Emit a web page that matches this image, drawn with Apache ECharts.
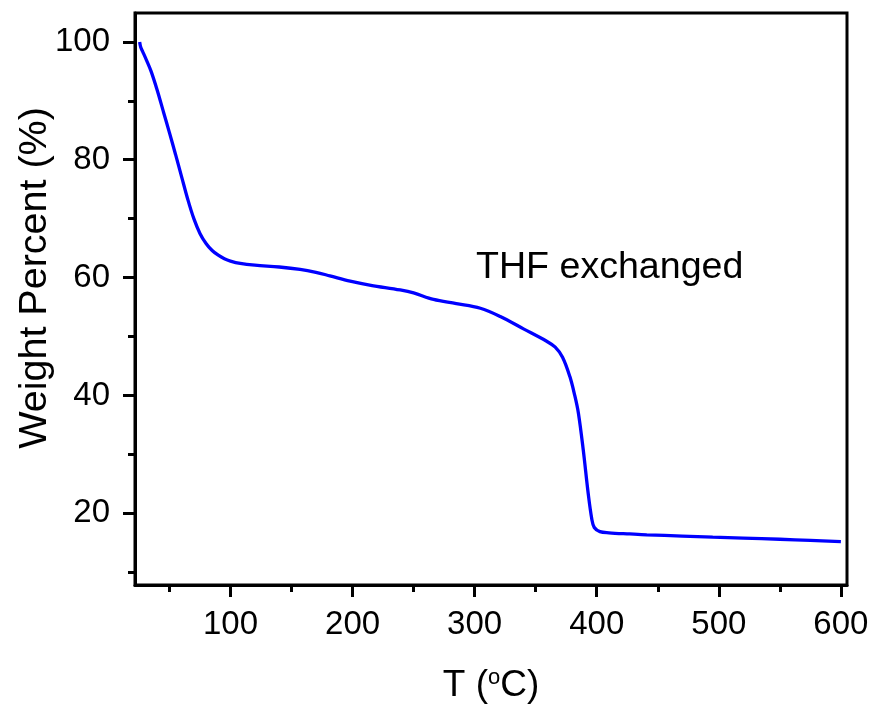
<!DOCTYPE html>
<html>
<head>
<meta charset="utf-8">
<script src="https://cdn.jsdelivr.net/npm/echarts@6/dist/echarts.min.js"></script>
<style>
html,body{margin:0;padding:0;background:#fff;}
#c{width:876px;height:711px;}
</style>
</head>
<body>
<div id="c"></div>
<script>
// Temperature (°C)
var temps = [25.6, 26.5, 28, 31, 35, 40, 45, 50, 55, 60, 65, 70, 75, 80, 85, 90, 95, 100, 108, 120, 140, 157, 170, 181.4, 198, 215, 239, 250, 266.3, 285, 304.7, 321, 340, 359, 366, 372, 378, 382, 385, 389, 393, 396, 398, 402.6, 410, 427, 441, 470, 495, 520, 550, 575, 600];
// Weight percent (%)
var weights = [100, 99.1, 98.4, 97.0, 95.0, 91.8, 88.2, 84.6, 80.9, 77.1, 73.3, 70.0, 67.5, 65.8, 64.6, 63.8, 63.2, 62.8, 62.4, 62.1, 61.8, 61.4, 60.9, 60.3, 59.4, 58.7, 57.9, 57.4, 56.3, 55.6, 54.8, 53.4, 51.3, 49.2, 48.2, 46.5, 43.2, 40.0, 37.0, 30.7, 23.4, 19.0, 17.6, 16.9, 16.7, 16.5, 16.35, 16.15, 15.95, 15.8, 15.6, 15.4, 15.2];
var xMajorTicks = [100, 200, 300, 400, 500, 600];
var xMinorTicks = [50, 150, 250, 350, 450, 550];
var yMajorTicks = [20, 40, 60, 80, 100];
var yMinorTicks = [10, 30, 50, 70, 90];
var annotation = 'THF exchanged';
var xTitle = 'T ({sup|o}C)';
var yTitle = 'Weight Percent (%)';

var xMin = 21.8, xMax = 605, yMin = 7.84, yMax = 104.9;
var font = 'Liberation Sans, Arial, Helvetica, sans-serif';

var data = temps.map(function (t, i) { return [t, weights[i]]; });

var chart = echarts.init(document.getElementById('c'));
chart.setOption({
  animation: false,
  backgroundColor: '#fff',
  grid: { left: 135, top: 13, right: 29, bottom: 126, show: true, borderColor: '#000', borderWidth: 3, backgroundColor: 'transparent' },
  xAxis: [
    {
      type: 'value', min: xMin, max: xMax,
      axisLine: { show: true, lineStyle: { color: '#000', width: 3 } },
      axisTick: { show: true, customValues: xMajorTicks, length: 12, inside: false, lineStyle: { color: '#000', width: 3 } },
      axisLabel: { show: true, customValues: xMajorTicks, margin: 23, fontSize: 33, color: '#000', fontFamily: font },
      splitLine: { show: false },
      name: xTitle, nameLocation: 'middle', nameGap: 82,
      nameTextStyle: { fontSize: 37, color: '#000', fontFamily: font,
        rich: { sup: { fontSize: 22, color: '#000', fontFamily: font, verticalAlign: 'top', padding: [0, 0, 14, 0] } } }
    },
    {
      type: 'value', min: xMin, max: xMax, position: 'bottom',
      axisLine: { show: false },
      axisTick: { show: true, customValues: xMinorTicks, length: 7, lineStyle: { color: '#000', width: 3 } },
      axisLabel: { show: false },
      splitLine: { show: false }
    }
  ],
  yAxis: [
    {
      type: 'value', min: yMin, max: yMax,
      axisLine: { show: true, lineStyle: { color: '#000', width: 3 } },
      axisTick: { show: true, customValues: yMajorTicks, length: 12, lineStyle: { color: '#000', width: 3 } },
      axisLabel: { show: true, customValues: yMajorTicks, margin: 25, fontSize: 33, color: '#000', fontFamily: font },
      splitLine: { show: false }
    },
    {
      type: 'value', min: yMin, max: yMax, position: 'left',
      axisLine: { show: false },
      axisTick: { show: true, customValues: yMinorTicks, length: 7, lineStyle: { color: '#000', width: 3 } },
      axisLabel: { show: false },
      splitLine: { show: false }
    }
  ],
  graphic: [
    { type: 'text', left: 476, top: 249, style: { text: annotation, fontSize: 37.6, fill: '#000', fontFamily: font } },
    { type: 'text', x: 35, y: 278, rotation: Math.PI / 2,
      style: { text: yTitle, fontSize: 39.5, fill: '#000', fontFamily: font, align: 'center', verticalAlign: 'middle' } }
  ],
  series: [
    {
      type: 'line', data: data, xAxisIndex: 0, yAxisIndex: 0,
      showSymbol: false, smooth: 0.35,
      lineStyle: { color: '#0000FF', width: 3.3 }
    }
  ]
});
</script>
</body>
</html>
